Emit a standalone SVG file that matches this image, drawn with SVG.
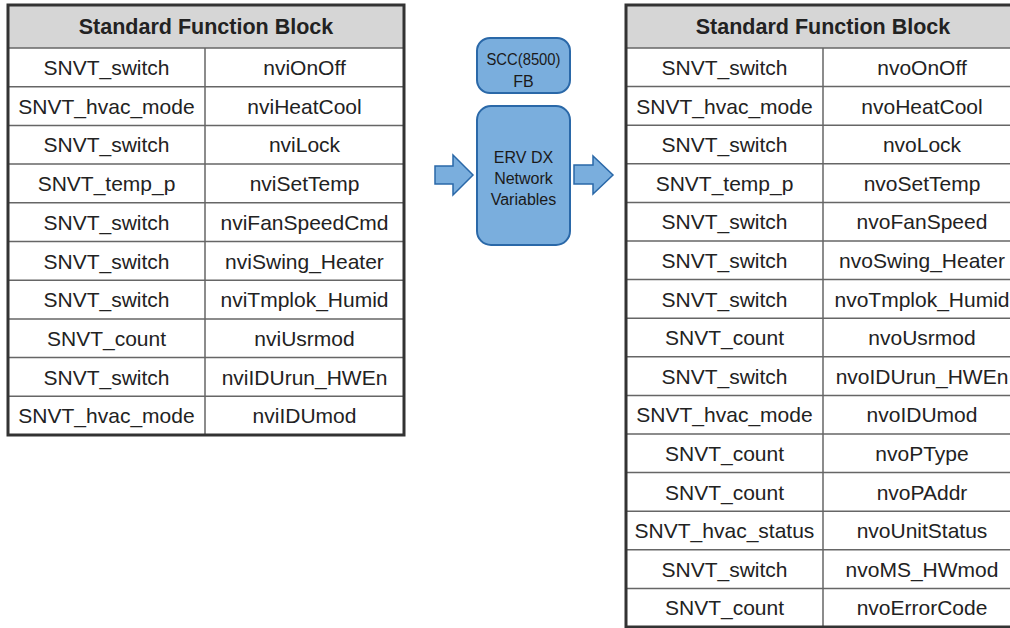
<svg xmlns="http://www.w3.org/2000/svg" width="1010" height="628" viewBox="0 0 1010 628">
<style>
.hdr{fill:#d6d6d6;stroke:none}
.cell{fill:#ffffff;stroke:none}
.grid{stroke:#666;stroke-width:1.5;fill:none}
.outer{stroke:#333;stroke-width:3;fill:none}
.ht{font-family:"Liberation Sans",Arial,sans-serif;font-weight:bold;font-size:21.5px;fill:#222;text-anchor:middle}
.t{font-family:"Liberation Sans",Arial,sans-serif;font-size:21px;fill:#222;text-anchor:middle}
.box{fill:#7aaedd;stroke:#2a68a8;stroke-width:2}
.bt{font-family:"Liberation Sans",Arial,sans-serif;font-size:16px;fill:#1a1a1a;text-anchor:middle}
.arr{fill:#7aaedd;stroke:#2a68a8;stroke-width:1.5;stroke-linejoin:miter}
</style>
<rect width="1010" height="628" fill="#ffffff"/>

<g id="left-table">
<rect class="cell" x="8" y="5" width="396" height="430"/>
<rect class="hdr" x="8" y="5" width="396" height="43"/>
<text class="ht" x="206" y="34">Standard Function Block</text>
<g class="grid">
<line x1="8" y1="48" x2="404" y2="48"/>
<line x1="8" y1="86.7" x2="404" y2="86.7"/>
<line x1="8" y1="125.4" x2="404" y2="125.4"/>
<line x1="8" y1="164.1" x2="404" y2="164.1"/>
<line x1="8" y1="202.8" x2="404" y2="202.8"/>
<line x1="8" y1="241.5" x2="404" y2="241.5"/>
<line x1="8" y1="280.2" x2="404" y2="280.2"/>
<line x1="8" y1="318.9" x2="404" y2="318.9"/>
<line x1="8" y1="357.6" x2="404" y2="357.6"/>
<line x1="8" y1="396.3" x2="404" y2="396.3"/>
<line x1="205" y1="48" x2="205" y2="435"/>
</g>
<rect class="outer" x="8" y="5" width="396" height="430"/>
<text class="t" x="106.5" y="75">SNVT_switch</text><text class="t" x="304.5" y="75">nviOnOff</text>
<text class="t" x="106.5" y="113.7">SNVT_hvac_mode</text><text class="t" x="304.5" y="113.7">nviHeatCool</text>
<text class="t" x="106.5" y="152.4">SNVT_switch</text><text class="t" x="304.5" y="152.4">nviLock</text>
<text class="t" x="106.5" y="191.1">SNVT_temp_p</text><text class="t" x="304.5" y="191.1">nviSetTemp</text>
<text class="t" x="106.5" y="229.8">SNVT_switch</text><text class="t" x="304.5" y="229.8">nviFanSpeedCmd</text>
<text class="t" x="106.5" y="268.5">SNVT_switch</text><text class="t" x="304.5" y="268.5">nviSwing_Heater</text>
<text class="t" x="106.5" y="307.2">SNVT_switch</text><text class="t" x="304.5" y="307.2">nviTmplok_Humid</text>
<text class="t" x="106.5" y="345.9">SNVT_count</text><text class="t" x="304.5" y="345.9">nviUsrmod</text>
<text class="t" x="106.5" y="384.6">SNVT_switch</text><text class="t" x="304.5" y="384.6">nviIDUrun_HWEn</text>
<text class="t" x="106.5" y="423.3">SNVT_hvac_mode</text><text class="t" x="304.5" y="423.3">nviIDUmod</text>
</g>

<g id="scc-fb">
<rect class="box" x="477" y="38" width="93" height="55" rx="13" ry="13"/>
<text class="bt" x="523.5" y="65" textLength="74" lengthAdjust="spacingAndGlyphs">SCC(8500)</text>
<text class="bt" x="523.5" y="87">FB</text>
</g>

<g id="erv-dx">
<rect class="box" x="477" y="106" width="93" height="139" rx="14" ry="14"/>
<text class="bt" x="523.5" y="163">ERV DX</text>
<text class="bt" x="523.5" y="184">Network</text>
<text class="bt" x="523.5" y="205">Variables</text>
</g>

<g id="connectors">
<path class="arr" d="M435,166 L453,166 L453,155 L473,175 L453,195 L453,184 L435,184 Z"/>
<path class="arr" d="M574,165 L593,165 L593,156 L613,175 L593,194 L593,184 L574,184 Z"/>
</g>

<g id="right-table">
<rect class="cell" x="626" y="5" width="396" height="622"/>
<rect class="hdr" x="626" y="5" width="396" height="43"/>
<text class="ht" x="823" y="34">Standard Function Block</text>
<g class="grid">
<line x1="626" y1="48" x2="1022" y2="48"/>
<line x1="626" y1="86.6" x2="1022" y2="86.6"/>
<line x1="626" y1="125.2" x2="1022" y2="125.2"/>
<line x1="626" y1="163.8" x2="1022" y2="163.8"/>
<line x1="626" y1="202.4" x2="1022" y2="202.4"/>
<line x1="626" y1="241" x2="1022" y2="241"/>
<line x1="626" y1="279.6" x2="1022" y2="279.6"/>
<line x1="626" y1="318.2" x2="1022" y2="318.2"/>
<line x1="626" y1="356.8" x2="1022" y2="356.8"/>
<line x1="626" y1="395.4" x2="1022" y2="395.4"/>
<line x1="626" y1="434" x2="1022" y2="434"/>
<line x1="626" y1="472.6" x2="1022" y2="472.6"/>
<line x1="626" y1="511.2" x2="1022" y2="511.2"/>
<line x1="626" y1="549.8" x2="1022" y2="549.8"/>
<line x1="626" y1="588.4" x2="1022" y2="588.4"/>
<line x1="823" y1="48" x2="823" y2="627"/>
</g>
<rect class="outer" x="626" y="5" width="396" height="622"/>
<text class="t" x="724.5" y="75">SNVT_switch</text><text class="t" x="922" y="75">nvoOnOff</text>
<text class="t" x="724.5" y="113.6">SNVT_hvac_mode</text><text class="t" x="922" y="113.6">nvoHeatCool</text>
<text class="t" x="724.5" y="152.2">SNVT_switch</text><text class="t" x="922" y="152.2">nvoLock</text>
<text class="t" x="724.5" y="190.8">SNVT_temp_p</text><text class="t" x="922" y="190.8">nvoSetTemp</text>
<text class="t" x="724.5" y="229.4">SNVT_switch</text><text class="t" x="922" y="229.4">nvoFanSpeed</text>
<text class="t" x="724.5" y="268">SNVT_switch</text><text class="t" x="922" y="268">nvoSwing_Heater</text>
<text class="t" x="724.5" y="306.6">SNVT_switch</text><text class="t" x="922" y="306.6">nvoTmplok_Humid</text>
<text class="t" x="724.5" y="345.2">SNVT_count</text><text class="t" x="922" y="345.2">nvoUsrmod</text>
<text class="t" x="724.5" y="383.8">SNVT_switch</text><text class="t" x="922" y="383.8">nvoIDUrun_HWEn</text>
<text class="t" x="724.5" y="422.4">SNVT_hvac_mode</text><text class="t" x="922" y="422.4">nvoIDUmod</text>
<text class="t" x="724.5" y="461">SNVT_count</text><text class="t" x="922" y="461">nvoPType</text>
<text class="t" x="724.5" y="499.6">SNVT_count</text><text class="t" x="922" y="499.6">nvoPAddr</text>
<text class="t" x="724.5" y="538.2">SNVT_hvac_status</text><text class="t" x="922" y="538.2">nvoUnitStatus</text>
<text class="t" x="724.5" y="576.8">SNVT_switch</text><text class="t" x="922" y="576.8">nvoMS_HWmod</text>
<text class="t" x="724.5" y="615.4">SNVT_count</text><text class="t" x="922" y="615.4">nvoErrorCode</text>
</g>
</svg>
